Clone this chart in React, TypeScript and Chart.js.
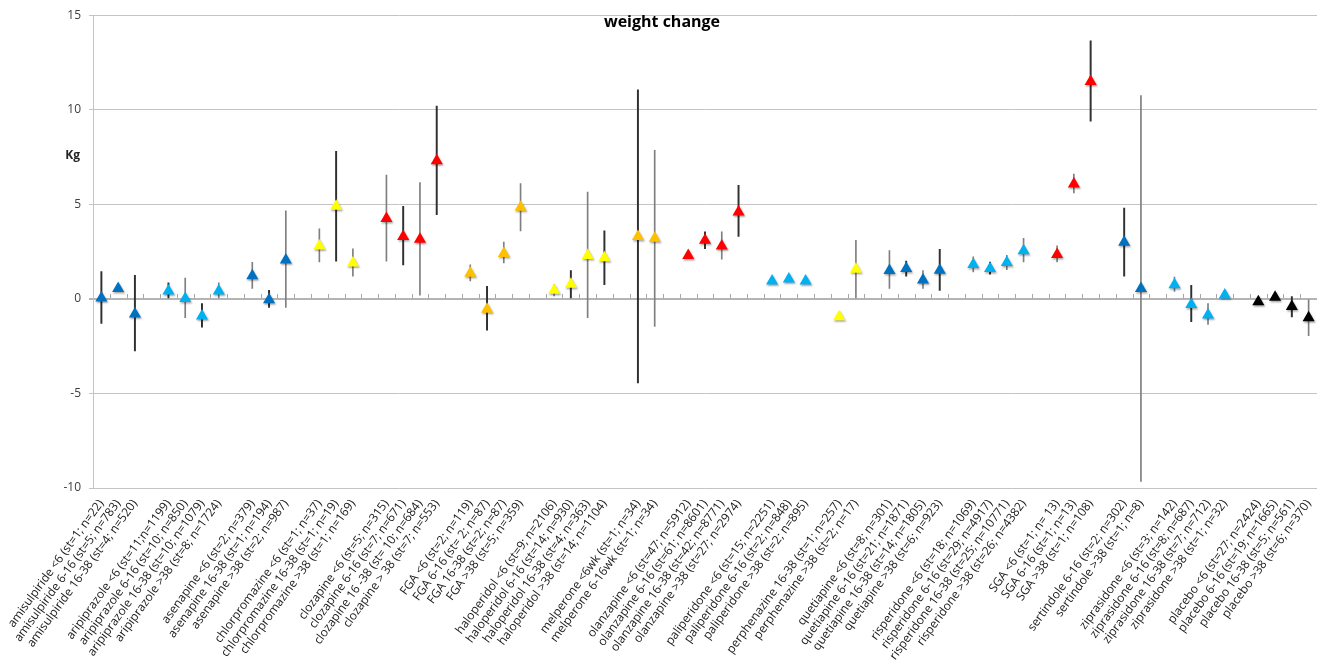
import React, { useEffect, useRef } from 'react';
import { Chart, registerables } from 'chart.js';

Chart.register(...registerables);

// ---------------- data ----------------
const categories: string[] = [
  'amisulpiride <6 (st=1; n=22)',
  'amisulpiride 6-16 (st=5; n=783)',
  'amisulpiride 16-38 (st=4; n=520)',
  '',
  'aripiprazole <6 (st=11;n=1199)',
  'aripiprazole 6-16 (st=10; n=850)',
  'aripiprazole 16-38 (st=10; n=1079)',
  'aripiprazole >38 (st=8; n=1724)',
  '',
  'asenapine <6 (st=2; n=379)',
  'asenapine 16-38 (st=1; n=194)',
  'asenapine >38 (st=2; n=987)',
  '',
  'chlorpromazine <6 (st=1; n=37)',
  'chlorpromazine 16-38 (st=1; n=19)',
  'chlorpromazine >38 (st=1; n=169)',
  '',
  'clozapine <6 (st=5; n=315)',
  'clozapine 6-16 (st=7; n=671)',
  'clozapine 16 -38 (st= 10; n=684)',
  'clozapine > 38 (st=7; n=553)',
  '',
  'FGA <6 (st=2; n=119)',
  'FGA 6-16 (st= 2; n=87)',
  'FGA 16-38 (st=2; n=87)',
  'FGA >38 (st=5; n=359)',
  '',
  'haloperidol <6 (st=9; n=2106)',
  'haloperidol 6-16 (st=14; n=930)',
  'haloperidol 16-38 (st=4; n=363)',
  'haloperidol >38 (st=14; n=1104)',
  '',
  'melperone <6wk (st=1; n=34)',
  'melperone 6-16wk (st=1; n=34)',
  '',
  'olanzapine <6 (st=47; n=5912)',
  'olanzapine 6-16 (st=61; n=8601)',
  'olanzapine 16-38 (st=42; n=8771)',
  'olanzapine >38 (st=27; n=2974)',
  '',
  'paliperidone <6 (st=15; n=2251)',
  'paliperidone 6-16 (st=2; n=848)',
  'paliperidone >38 (st=2; n=895)',
  '',
  'perphenazine 16-38 (st=1; n=257)',
  'perphenazine >38 (st=2; n=17)',
  '',
  'quetiapine <6 (st=8; n=301)',
  'quetiapine 6-16 (st=21; n=1871)',
  'quetiapine 16-38 (st=14; n=1805)',
  'quetiapine >38 (st=6; n=923)',
  '',
  'risperidone <6 (st=18; n=1069)',
  'risperidone 6-16 (st=29; n=4917)',
  'risperidone 16-38 (st=25; n=10771)',
  'risperidone >38 (st=26; n=4382)',
  '',
  'SGA <6 (st=1; n= 13)',
  'SGA 6-16 (st=1; n=13)',
  'SGA >38 (st=1; n=108)',
  '',
  'sertindole 6-16 (st=2; n=302)',
  'sertindole >38 (st=1; n=8)',
  '',
  'ziprasidone <6 (st=3; n=142)',
  'ziprasidone 6-16 (st=8; n=687)',
  'ziprasidone 16-38 (st=7; n=712)',
  'ziprasidone >38 (st=1; n=32)',
  '',
  'placebo <6 (st=27; n=2424)',
  'placebo 6-16 (st=19; n=1665)',
  'placebo 16-38 (st=5; n=561)',
  'placebo >38 (st=6; n=370)',
];

// mean weight change (kg)
const weightChange: (number | null)[] = [
  0.05, 0.55, -0.8, null,
  0.42, 0.02, -0.9, 0.42, null,
  1.22, -0.05, 2.05, null,
  2.8, 4.9, 1.9, null,
  4.25, 3.3, 3.15, 7.3, null,
  1.35, -0.55, 2.4, 4.85, null,
  0.45, 0.78, 2.3, 2.18, null,
  3.3, 3.2, null,
  2.3, 3.1, 2.8, 4.6, null,
  0.95, 1.05, 0.95, null,
  -0.95, 1.57, null,
  1.5, 1.6, 1.0, 1.52, null,
  1.82, 1.6, 1.92, 2.55, null,
  2.35, 6.08, 11.5, null,
  3.0, 0.55, null,
  0.75, -0.3, -0.85, 0.2, null,
  -0.15, 0.08, -0.4, -1.0,
];

// lower / upper limits of the error bars
const ciLow: (number | null)[] = [
  -1.3, null, -2.75, null,
  0.0, -1.0, -1.5, 0.0, null,
  0.55, -0.45, -0.45, null,
  1.95, 2.0, 1.2, null,
  2.0, 1.8, 0.2, 4.45, null,
  0.95, -1.65, 1.9, 3.6, null,
  0.15, 0.05, -1.0, 0.75, null,
  -4.45, -1.45, null,
  null, 2.65, 2.1, 3.3, null,
  null, null, null, null,
  null, 0.05, null,
  0.55, 1.2, 0.55, 0.45, null,
  1.43, 1.3, 1.55, 1.95, null,
  1.95, 5.6, 9.4, null,
  1.2, -9.65, null,
  0.4, -1.2, -1.35, 0.0, null,
  null, null, -0.95, -1.95,
];

const ciHigh: (number | null)[] = [
  1.45, null, 1.25, null,
  0.85, 1.1, -0.25, 0.85, null,
  1.93, 0.45, 4.65, null,
  3.7, 7.8, 2.65, null,
  6.55, 4.9, 6.15, 10.2, null,
  1.8, 0.67, 3.0, 6.1, null,
  0.75, 1.5, 5.65, 3.6, null,
  11.05, 7.85, null,
  null, 3.55, 3.55, 6.0, null,
  null, null, null, null,
  null, 3.1, null,
  2.55, 2.0, 1.5, 2.62, null,
  2.22, 1.95, 2.3, 3.2, null,
  2.8, 6.6, 13.65, null,
  4.8, 10.75, null,
  1.15, 0.72, -0.25, 0.4, null,
  null, null, 0.12, 0.0,
];

// marker colour group per category
const markerGroup: string[] = [
  'db', 'db', 'db', '',
  'lb', 'lb', 'lb', 'lb', '',
  'db', 'db', 'db', '',
  'ye', 'ye', 'ye', '',
  're', 're', 're', 're', '',
  'or', 'or', 'or', 'or', '',
  'ye', 'ye', 'ye', 'ye', '',
  'or', 'or', '',
  're', 're', 're', 're', '',
  'lb', 'lb', 'lb', '',
  'ye', 'ye', '',
  'db', 'db', 'db', 'db', '',
  'lb', 'lb', 'lb', 'lb', '',
  're', 're', 're', '',
  'db', 'db', '',
  'lb', 'lb', 'lb', 'lb', '',
  'bk', 'bk', 'bk', 'bk',
];

// error bar tone: 'k' dark, 'g' grey
const barTone: string[] = [
  'k', '', 'k', '',
  'k', 'g', 'k', 'g', '',
  'g', 'k', 'g', '',
  'g', 'k', 'g', '',
  'g', 'k', 'g', 'k', '',
  'g', 'k', 'g', 'g', '',
  'g', 'k', 'g', 'k', '',
  'k', 'g', '',
  '', 'k', 'g', 'k', '',
  '', '', '', '',
  '', 'g', '',
  'g', 'k', 'g', 'k', '',
  'g', 'k', 'g', 'g', '',
  'g', 'g', 'k', '',
  'k', 'g', '',
  'g', 'k', 'g', 'g', '',
  '', '', 'k', 'g',
];

const yMin = -10;
const yMax = 15;
const yStep = 5;
const kgLabelValue = 7.6;

// ---------------- styles ----------------
const palette: Record<string, string> = {
  db: '#0070C0',
  lb: '#00B0F0',
  ye: '#FFFF00',
  re: '#FF0000',
  or: '#FFC000',
  bk: '#000000',
};

const FONT = '"Open Sans", "Noto Sans", sans-serif';

const errorData = (tone: string) =>
  categories.map((_, i) =>
    barTone[i] === tone && ciLow[i] !== null && ciHigh[i] !== null
      ? [ciLow[i] as number, ciHigh[i] as number]
      : null
  );

const shadowPlugin = {
  id: 'markerShadow',
  beforeDatasetDraw(chart: any, args: any) {
    if (args.meta.type !== 'line') return;
    const ctx = chart.ctx;
    ctx.save();
    ctx.shadowColor = 'rgba(0,0,0,0.35)';
    ctx.shadowBlur = 2;
    ctx.shadowOffsetX = 1;
    ctx.shadowOffsetY = 1.5;
  },
  afterDatasetDraw(chart: any, args: any) {
    if (args.meta.type !== 'line') return;
    chart.ctx.restore();
  },
};

// small tick marks on the zero line, at the category boundaries of the x scale
const zeroTicksPlugin = {
  id: 'zeroTicks',
  beforeDatasetsDraw(chart: any) {
    const xs = chart.scales.x;
    const ys = chart.scales.y;
    const ctx = chart.ctx;
    const y0 = Math.round(ys.getPixelForValue(0)) - 1;
    const n = xs.getLabels().length;
    const half = (xs.getPixelForValue(1) - xs.getPixelForValue(0)) / 2;
    ctx.save();
    ctx.strokeStyle = '#a6a6a6';
    ctx.lineWidth = 1;
    ctx.beginPath();
    for (let i = 1; i < n; i++) {
      const px = Math.round(xs.getPixelForValue(i) - half) + 0.5;
      ctx.moveTo(px, y0);
      ctx.lineTo(px, y0 - 4);
    }
    ctx.stroke();
    ctx.restore();
  },
};

const kgPlugin = {
  id: 'kgTitle',
  afterDraw(chart: any) {
    const ys = chart.scales.y;
    const ctx = chart.ctx;
    ctx.save();
    ctx.font = `bold 12px ${FONT}`;
    ctx.fillStyle = '#262626';
    ctx.textAlign = 'right';
    ctx.textBaseline = 'middle';
    ctx.fillText('Kg', chart.chartArea.left - 13, ys.getPixelForValue(kgLabelValue));
    ctx.restore();
  },
};

export default function App() {
  const ref = useRef<HTMLCanvasElement | null>(null);

  useEffect(() => {
    if (!ref.current) return;
    const chart = new Chart(ref.current, {
      type: 'bar',
      data: {
        labels: categories,
        datasets: [
          {
            type: 'line',
            label: 'weight change',
            data: weightChange,
            showLine: false,
            pointStyle: 'triangle',
            pointRadius: 7,
            pointHoverRadius: 7,
            pointBorderWidth: 0,
            pointBackgroundColor: markerGroup.map((g) => palette[g] || 'transparent'),
            order: 0,
          } as any,
          {
            type: 'bar',
            label: 'ci dark',
            data: errorData('k') as any,
            backgroundColor: '#303030',
            barThickness: 1.3,
            grouped: false,
            borderWidth: 0,
            order: 1,
          } as any,
          {
            type: 'bar',
            label: 'ci grey',
            data: errorData('g') as any,
            backgroundColor: '#7f7f7f',
            barThickness: 1,
            grouped: false,
            borderWidth: 0,
            order: 2,
          } as any,
        ],
      },
      options: {
        animation: false,
        responsive: false,
        maintainAspectRatio: false,
        events: [],
        layout: { padding: 0 },
        plugins: {
          legend: { display: false },
          tooltip: { enabled: false },
          title: {
            display: true,
            text: 'weight change',
            color: '#000000',
            font: { family: FONT, size: 16, weight: 'bold' },
            padding: { top: 10, bottom: -16.5 },
          },
        },
        scales: {
          x: {
            type: 'category',
            position: 'bottom',
            offset: true,
            grid: { display: false, drawTicks: false, offset: true },
            border: { display: false },
            ticks: {
              autoSkip: false,
              minRotation: 54,
              maxRotation: 54,
              padding: 9,
              color: '#1a1a1a',
              font: { family: FONT, size: 12 },
            },
            afterFit: (s: any) => {
              s.height = 180;
              s.paddingLeft = 0;
              s.paddingRight = 0;
            },
          },
          y: {
            type: 'linear',
            min: yMin,
            max: yMax,
            ticks: {
              stepSize: yStep,
              padding: 8,
              color: '#404040',
              font: { family: FONT, size: 12 },
            },
            grid: {
              color: (c: any) => (c.tick && c.tick.value === 0 ? '#b4b4b4' : '#c4c4c4'),
              lineWidth: (c: any) => (c.tick && c.tick.value === 0 ? 2 : 1),
              tickLength: 4,
              drawTicks: true,
            },
            border: { display: true, color: '#c4c4c4', width: 1 },
            afterFit: (s: any) => {
              s.width = 93;
            },
          },
        },
      },
      plugins: [zeroTicksPlugin, shadowPlugin, kgPlugin],
    } as any);
    return () => chart.destroy();
  }, []);

  return (
    <div style={{ position: 'absolute', left: 0, top: 0, width: 1324, height: 668, background: '#ffffff' }}>
      <canvas ref={ref} width={1324} height={668} style={{ display: 'block', width: 1324, height: 668 }} />
    </div>
  );
}
